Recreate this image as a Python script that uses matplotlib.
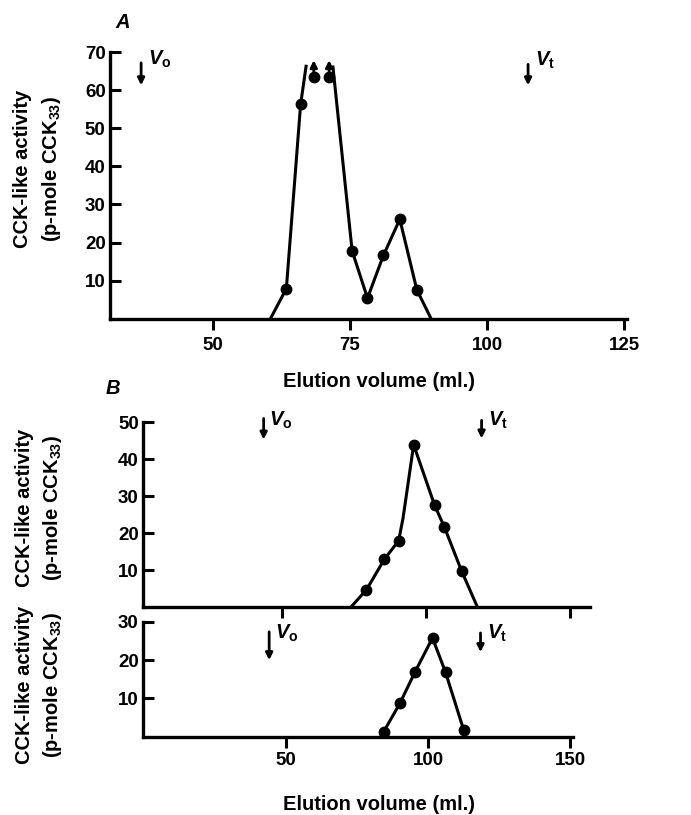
import matplotlib
matplotlib.use('Agg')
import matplotlib.pyplot as plt

plt.rcParams['font.family'] = 'Liberation Sans'
plt.rcParams['font.weight'] = 'bold'
plt.rcParams['mathtext.fontset'] = 'custom'
plt.rcParams['mathtext.rm'] = 'Liberation Sans:bold'
plt.rcParams['mathtext.it'] = 'Liberation Sans:italic'

# ---- panel A (elution profile, one column) ----
a_line1_x = [60.5, 63.4, 66.0, 67.0]
a_line1_y = [0, 7.9, 56.3, 66.3]
a_line2_x = [71.9, 75.4, 78.2, 81.1, 84.1, 87.2, 89.8]
a_line2_y = [66.1, 17.8, 5.4, 16.6, 26.1, 7.6, 0]
a_pts_x = [63.4, 66.0, 75.4, 78.2, 81.1, 84.1, 87.2]
a_pts_y = [7.9, 56.3, 17.8, 5.4, 16.6, 26.1, 7.6]
a_off_x = [68.4, 71.2]        # points off scale (arrow up)
a_off_y = [63.4, 63.4]
a_vo, a_vt = 36.9, 107.5

# ---- panel B upper ----
b1_line_x = [73.9, 79.3, 85.5, 90.5, 92.0, 93.5, 95.7, 103.0, 106.3, 112.4, 117.7]
b1_line_y = [0, 4.7, 12.9, 18.0, 24.0, 32.0, 43.9, 27.5, 21.8, 9.7, 0.3]
b1_pts_x = [79.3, 85.5, 90.5, 95.7, 103.0, 106.3, 112.4]
b1_pts_y = [4.7, 12.9, 18.0, 43.9, 27.5, 21.8, 9.7]
b1_vo, b1_vt = 43.6, 119.3

# ---- panel B lower ----
b2_pts_x = [84.4, 90.1, 95.5, 101.6, 106.2, 112.6]
b2_pts_y = [1.3, 8.7, 17.0, 25.8, 16.8, 1.7]
b2_vo, b2_vt = 44.1, 118.5

ylab1 = 'CCK-like activity'
ylab2 = '(p-mole CCK$_{33}$)'
xlab = 'Elution volume (ml.)'

LW = 2.2
MS = 7.5
TFS = 13.5
LFS = 14.5

fig = plt.figure(figsize=(6.91, 8.15), dpi=100)

def style(ax, xlim, ylim, xt, yt, xlabels=True, xpad=3):
    ax.set_xlim(*xlim)
    ax.set_ylim(*ylim)
    ax.set_xticks(xt)
    ax.set_yticks(yt)
    for s in ['top', 'right']:
        ax.spines[s].set_visible(False)
    for s in ['left', 'bottom']:
        ax.spines[s].set_linewidth(2.4)
    ax.tick_params(axis='x', direction='out', length=8, width=2.2, pad=xpad, labelsize=TFS)
    ax.tick_params(axis='y', direction='in', length=8, width=2.2, pad=3, labelsize=TFS)
    if not xlabels:
        ax.tick_params(axis='x', labelbottom=False)

def marker_arrow(ax, x, y0, y1, lw=2.0, ms=10):
    ax.annotate('', xy=(x, y1), xytext=(x, y0),
                arrowprops=dict(arrowstyle='-|>', lw=lw, color='black',
                                mutation_scale=ms, shrinkA=0, shrinkB=0))

def v_arrow(ax, x, ytop, ybot, name, lx, ly):
    marker_arrow(ax, x, ytop, ybot)
    ax.text(lx, ly, r'$\mathit{V}_{\mathrm{%s}}$' % name, fontsize=LFS,
            ha='left', va='center')

# panel A
axA = fig.add_axes([0.159, 0.609, 0.748, 0.327])
style(axA, (31.2, 125.5), (0, 70), [50, 75, 100, 125], range(10, 80, 10), xpad=5)
axA.plot(a_line1_x, a_line1_y, color='black', lw=LW)
axA.plot(a_line2_x, a_line2_y, color='black', lw=LW)
axA.plot(a_pts_x, a_pts_y, 'o', color='black', ms=MS)
axA.plot(a_off_x, a_off_y, 'o', color='black', ms=MS)
for x, y in zip(a_off_x, a_off_y):
    marker_arrow(axA, x, y, y + 4.5)
v_arrow(axA, a_vo, 67.2, 61.3, 'o', a_vo + 1.3, 68.0)
v_arrow(axA, a_vt, 66.8, 61.3, 't', a_vt + 1.3, 67.8)
axA.text(0.01, 1.09, 'A', transform=axA.transAxes, fontsize=LFS, style='italic')

# panel B upper
axB1 = fig.add_axes([0.207, 0.255, 0.647, 0.227])
style(axB1, (1.7, 157), (0, 50), [50, 100, 150], range(10, 60, 10), xlabels=False)
axB1.plot(b1_line_x, b1_line_y, color='black', lw=LW)
axB1.plot(b1_pts_x, b1_pts_y, 'o', color='black', ms=MS)
v_arrow(axB1, b1_vo, 51.0, 45.3, 'o', b1_vo + 1.8, 50.5)
v_arrow(axB1, b1_vt, 50.5, 45.6, 't', b1_vt + 2.3, 50.5)

# panel B lower
axB2 = fig.add_axes([0.207, 0.096, 0.622, 0.141])
style(axB2, (-0.3, 151), (0, 30), [50, 100, 150], range(10, 40, 10))
axB2.plot(b2_pts_x, b2_pts_y, '-o', color='black', ms=MS, lw=LW)
v_arrow(axB2, b2_vo, 27.4, 20.0, 'o', b2_vo + 2.0, 27.0)
v_arrow(axB2, b2_vt, 27.1, 22.1, 't', b2_vt + 2.3, 27.0)

fig.text(113 / 691, 1 - 389 / 815, 'B', fontsize=LFS, style='italic', ha='center', va='center')

# axis labels
for yc, x1, x2 in [(169, 23, 52), (508, 24, 53), (685, 24, 53)]:
    fig.text(x1 / 691, 1 - yc / 815, ylab1, rotation=90, fontsize=LFS, ha='center', va='center')
    fig.text(x2 / 691, 1 - yc / 815, ylab2, rotation=90, fontsize=LFS, ha='center', va='center')
fig.text(379 / 691, 1 - 382 / 815, xlab, fontsize=LFS, ha='center', va='center')
fig.text(379 / 691, 1 - 805 / 815, xlab, fontsize=LFS, ha='center', va='center')

fig.savefig('out.png', dpi=100)
